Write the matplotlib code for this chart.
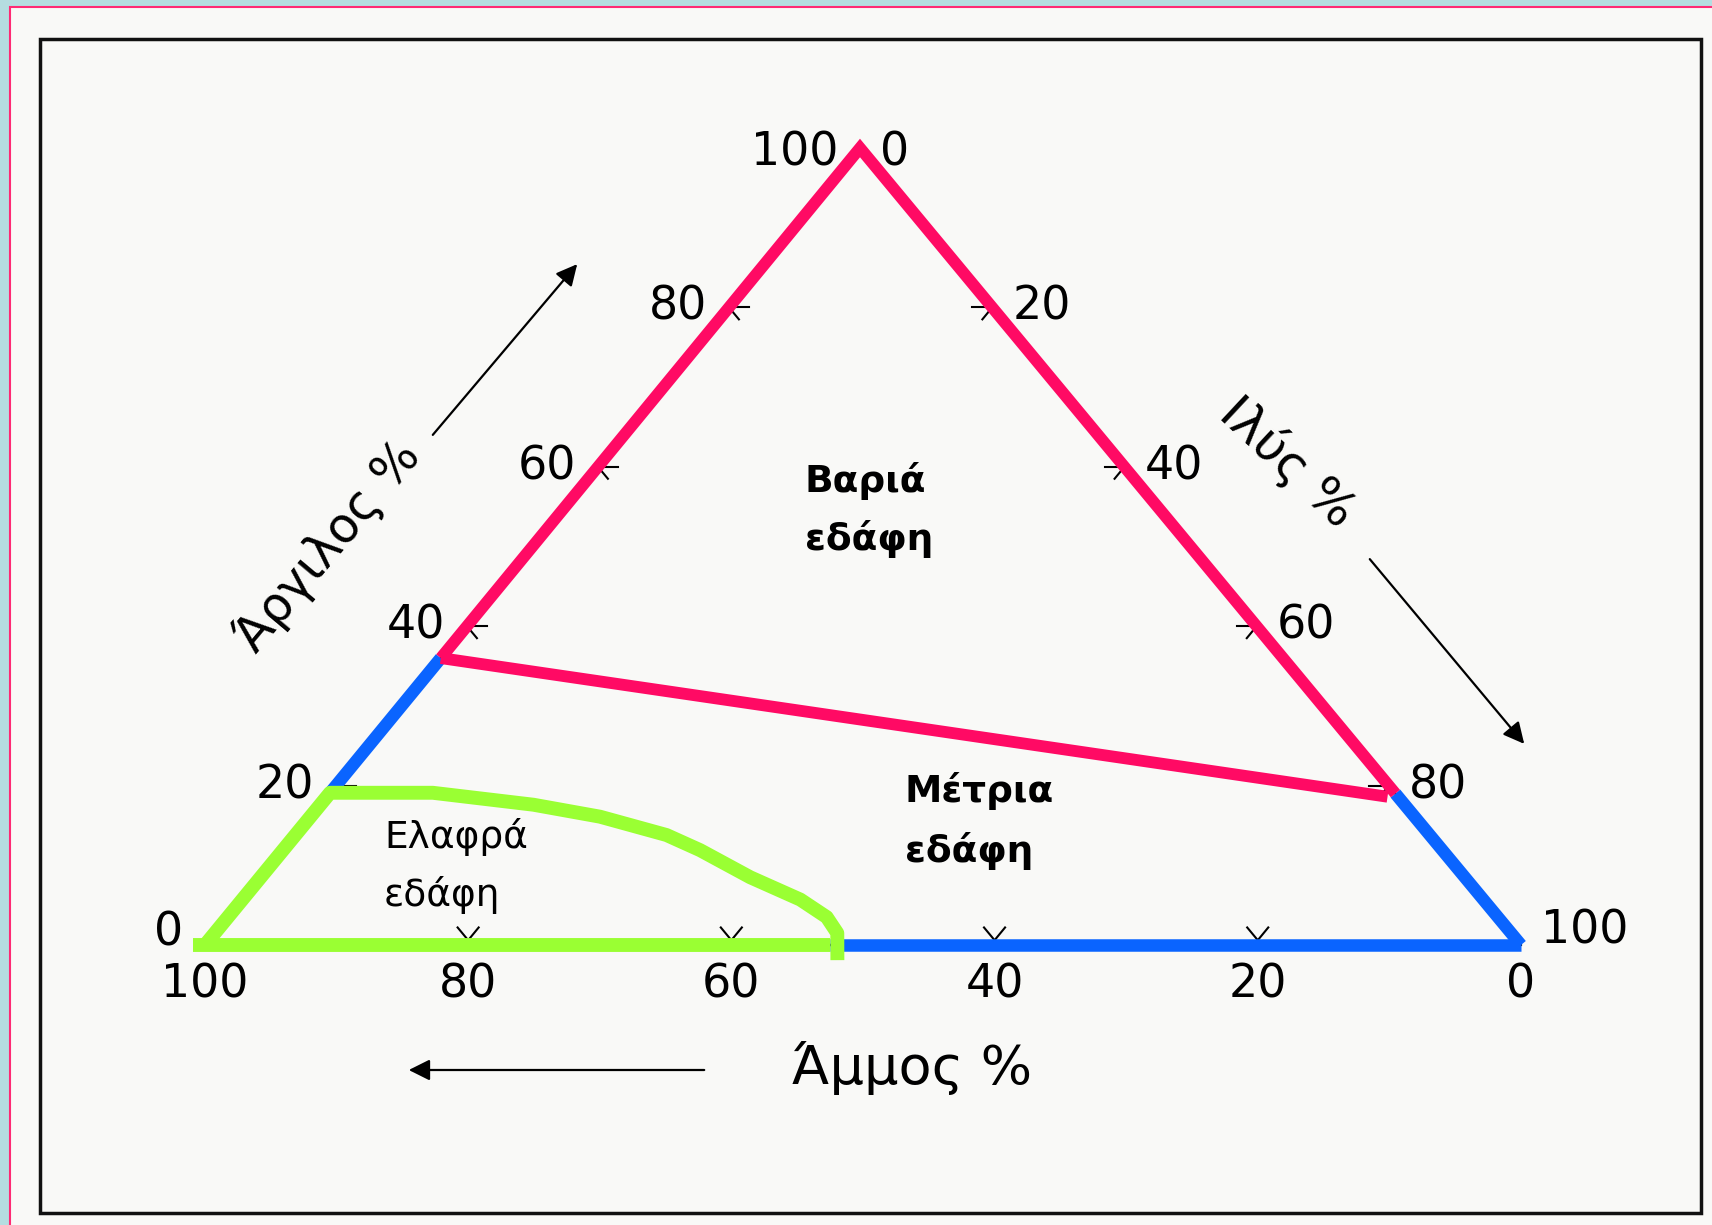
import numpy as np
import matplotlib
matplotlib.use('Agg')
import matplotlib.pyplot as plt
from matplotlib.patches import Rectangle

plt.rcParams['font.family'] = ['DejaVu Sans']

# Ternary axes: clay (Άργιλος), silt (Ιλύς), sand (Άμμος), all in %
tick_values = [0, 20, 40, 60, 80, 100]
tick_labels = ['0', '20', '40', '60', '80', '100']
inner_ticks = [20, 40, 60, 80]

# class boundaries
heavy_clay_left = 36.0          # heavy/medium boundary on the clay edge
heavy_right_clay = 18.6         # heavy/medium boundary near the silt edge
heavy_right_silt = 80.6
right_split_clay = 19.0         # blue / pink split on the right edge
light_clay_left = 19.0          # top of the light-soil outline on the clay edge
light_silt_bottom = 47.5        # light-soil outline on the sand edge

# hand drawn light-soil curve (clay %, silt %)
light_curve_clay = [19.1, 19.1, 17.6, 16.1, 13.8, 11.9, 8.5, 5.7, 3.5, 1.5, -1.9]
light_curve_silt = [0.0, 7.8, 16.2, 22.0, 28.2, 31.7, 37.2, 42.4, 45.5, 47.3, 49.0]

region_names = ['Βαριά\nεδάφη', 'Μέτρια\nεδάφη', 'Ελαφρά\nεδάφη']
axis_names = ['Άργιλος %', 'Ιλύς %', 'Άμμος %']

PINK = '#ff0a64'
BLUE = '#0a64ff'
GREEN = '#9aff33'

# triangle corners on the page (pixels)
SAND_V = (205, 945)
CLAY_V = (860, 148)
SILT_V = (1521, 945)


def tern(clay, silt):
    clay = np.asarray(clay, dtype=float) / 100
    silt = np.asarray(silt, dtype=float) / 100
    sand = 1 - clay - silt
    x = sand * SAND_V[0] + clay * CLAY_V[0] + silt * SILT_V[0]
    y = sand * SAND_V[1] + clay * CLAY_V[1] + silt * SILT_V[1]
    return x, y


fig = plt.figure(figsize=(17.12, 12.25), dpi=100)
fig.patch.set_facecolor('#b5dde0')
ax = fig.add_axes([0, 0, 1, 1])
ax.set_xlim(0, 1712)
ax.set_ylim(1225, 0)
ax.axis('off')

# page and frame
ax.add_patch(Rectangle((10, 7), 1705, 1222, facecolor='#f9f9f7', edgecolor='#ff2a74', lw=1.5))
ax.add_patch(Rectangle((40, 39), 1661, 1174, facecolor='none', edgecolor='#111111', lw=2.5))

# triangle outline
tx, ty = tern([0, 100, 0, 0], [0, 0, 100, 0])
ax.plot(tx, ty, color='black', lw=1.8, zorder=2)

# small tick marks
L = 1.5
for v in inner_ticks:
    # clay edge
    x0, y0 = tern(v, 0)
    for dc, ds in [(0, L), (-L, L)]:
        x1, y1 = tern(v + dc, ds)
        ax.plot([x0, x1], [y0, y1], color='black', lw=1.5, zorder=2)
    # silt edge
    x0, y0 = tern(100 - v, v)
    for dc, ds in [(0, -L), (-L, 0)]:
        x1, y1 = tern(100 - v + dc, v + ds)
        ax.plot([x0, x1], [y0, y1], color='black', lw=1.5, zorder=2)
    # sand edge: small "Y" above the line
    x0, y0 = tern(0.6, 100 - v - 0.3)
    ax.plot([x0, x0], [y0, y0 + 8], color='black', lw=1.5, zorder=2)
    for dc, ds in [(1.6, -1.6), (1.6, 0)]:
        x1, y1 = tern(0.6 + dc, 100 - v - 0.3 + ds)
        ax.plot([x0, x1], [y0, y1], color='black', lw=1.5, zorder=2)

# tick labels
for v, lab in zip(tick_values, tick_labels):
    x, y = tern(v, 0)
    dy = -12 if v == 0 else (5 if v == 100 else 0)
    ax.text(x - 22, y + dy, lab, fontsize=33, ha='right', va='center')
    x, y = tern(100 - v, v)
    dy = -14 if v == 100 else (5 if v == 0 else 0)
    ax.text(x + 20, y + dy, lab, fontsize=33, ha='left', va='center')
for v, lab in zip(tick_values, tick_labels):
    x, y = tern(0, 100 - v)
    ax.text(x, y + 40, lab, fontsize=33, ha='center', va='center')

# blue segments
bx, by = tern([0, 0], [light_silt_bottom, 100])
ax.plot(bx, by, color=BLUE, lw=9, solid_capstyle='butt', zorder=3)
bx, by = tern([light_clay_left, heavy_clay_left], [0, 0])
ax.plot(bx, by, color=BLUE, lw=9, solid_capstyle='butt', zorder=3)
bx, by = tern([right_split_clay, 0], [100 - right_split_clay, 100])
ax.plot(bx, by, color=BLUE, lw=9, solid_capstyle='butt', zorder=3)

# pink boundaries of the heavy soils
px, py = tern([heavy_clay_left, 100, right_split_clay], [0, 0, 100 - right_split_clay])
ax.plot(px, py, color=PINK, lw=8.5, solid_joinstyle='miter', solid_capstyle='butt', zorder=4)
px, py = tern([heavy_clay_left, heavy_right_clay], [0, heavy_right_silt])
ax.plot(px, py, color=PINK, lw=8.5, solid_capstyle='butt', zorder=4)

# green outline of the light soils
gx, gy = tern([0, 0], [-0.9, light_silt_bottom])
ax.plot(gx, gy, color=GREEN, lw=10, solid_capstyle='butt', zorder=5)
gx, gy = tern([0] + light_curve_clay, [0] + light_curve_silt)
ax.plot(gx, gy, color=GREEN, lw=10, solid_joinstyle='round', solid_capstyle='butt', zorder=5)

# region names
ax.text(805, 510, region_names[0], fontsize=27, fontweight='bold', ha='left', va='center', linespacing=1.7)
ax.text(905, 821, region_names[1], fontsize=27, fontweight='bold', ha='left', va='center', linespacing=1.7)
ax.text(384, 866, region_names[2], fontsize=27, ha='left', va='center', linespacing=1.7)

# axis names and arrows
ax.text(328, 546, axis_names[0], fontsize=35, rotation=50, ha='center', va='center')
ax.text(1288, 462, axis_names[1], fontsize=36, rotation=-43, ha='center', va='center')
ax.text(912, 1068, axis_names[2], fontsize=39, ha='center', va='center')

arrow = dict(arrowstyle='-|>', color='black', lw=1.6, mutation_scale=32)
ax.annotate('', xy=(579, 262), xytext=(431, 437), arrowprops=arrow)
ax.annotate('', xy=(1526, 746), xytext=(1368, 557), arrowprops=arrow)
ax.annotate('', xy=(406, 1070), xytext=(707, 1070), arrowprops=arrow)

fig.savefig('out.png', dpi=100, facecolor=fig.get_facecolor())
